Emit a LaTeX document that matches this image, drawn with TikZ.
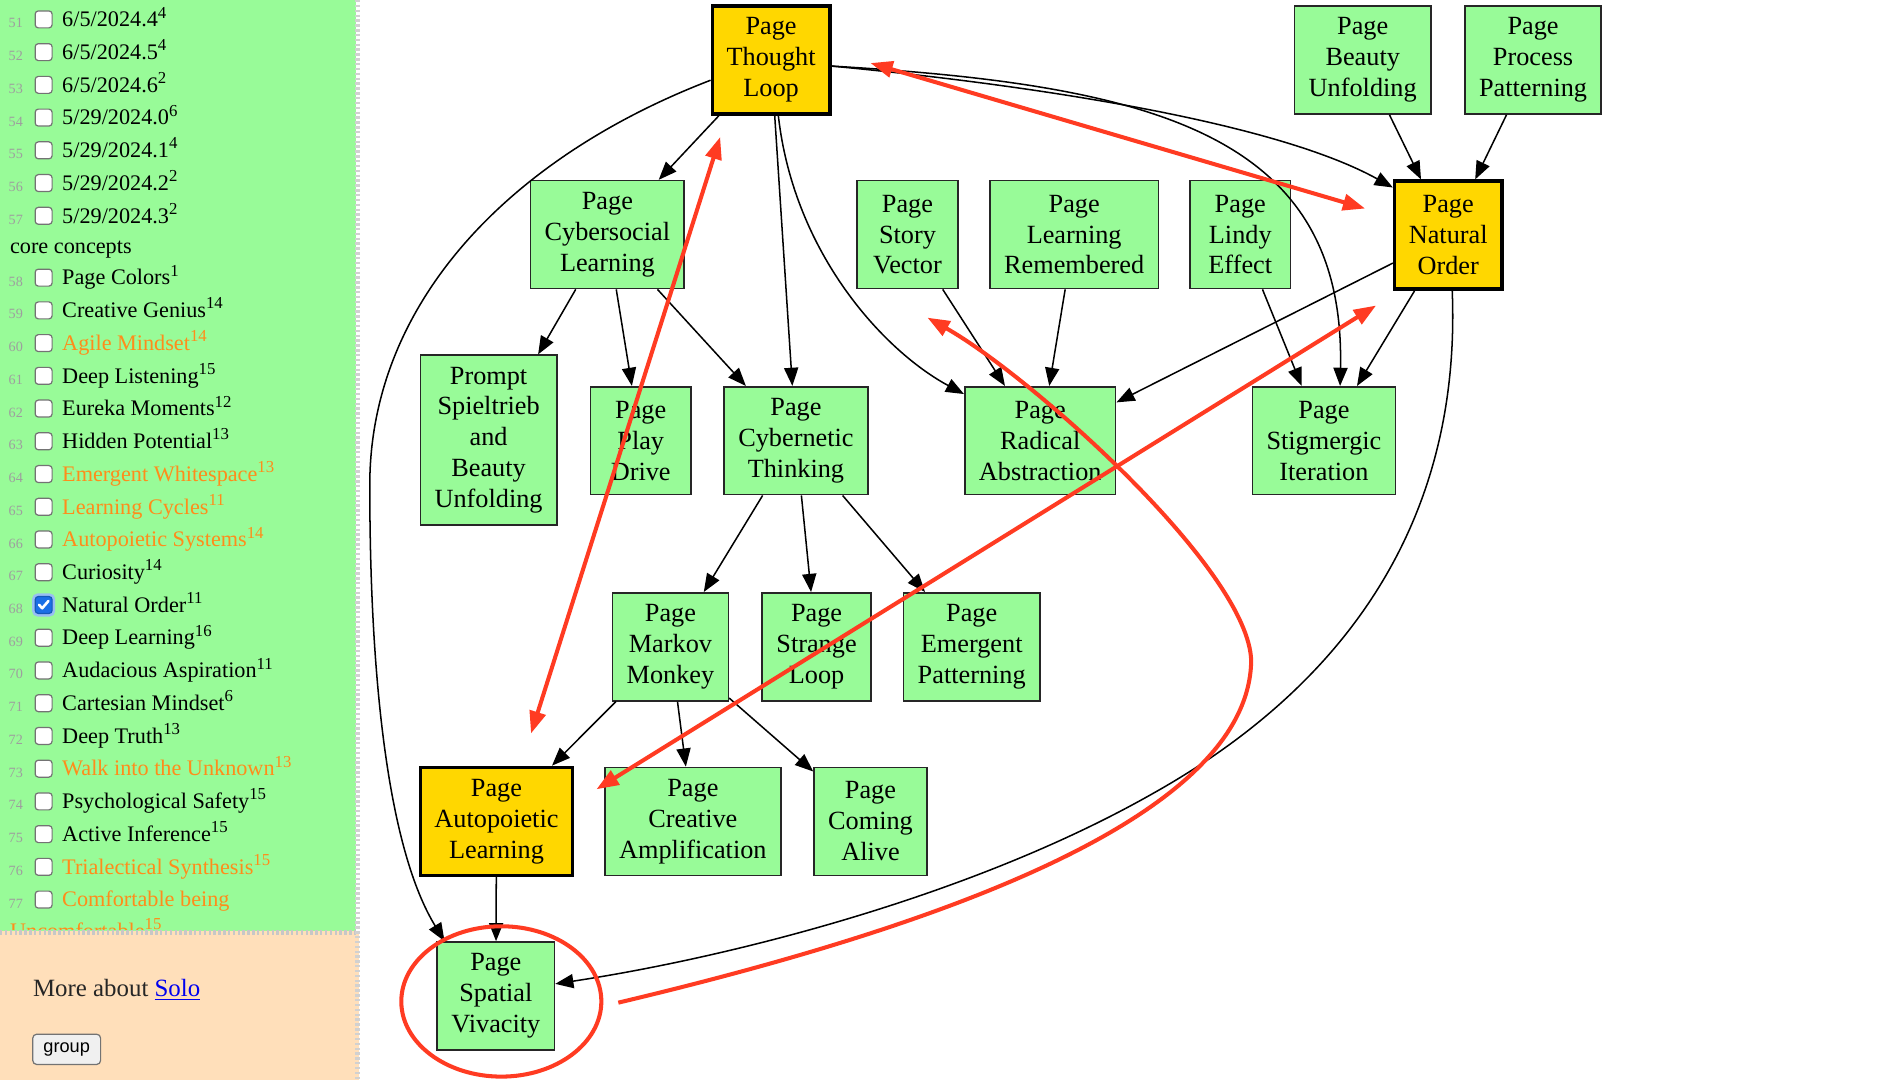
\documentclass[tikz,border=0pt]{standalone}
\usepackage{fontspec}
\setmainfont{Liberation Serif}
\newfontfamily\uifont{Liberation Sans}
\usetikzlibrary{arrows.meta,calc}

\definecolor{pagegreen}{HTML}{98FB98}
\definecolor{pagegold}{HTML}{FFD700}
\definecolor{notered}{HTML}{FF3B22}
\definecolor{sideorange}{HTML}{FF8C1A}
\definecolor{peach}{HTML}{FFDFBA}
\definecolor{linkblue}{HTML}{0000EE}
\definecolor{boxblue}{HTML}{1A6FE6}

\newcommand{\supnum}[1]{\raisebox{0.85ex}{\fontsize{8.3pt}{9pt}\selectfont #1}}

\begin{document}
\begin{tikzpicture}[
  x=0.6pt, y=-0.6pt,
  pagebox/.style={rectangle, draw=black!85, line width=0.8pt, fill=pagegreen, align=center,
    font=\fontsize{13pt}{15.3pt}\selectfont, inner xsep=7pt, inner ysep=2pt,
    minimum width=49.8pt, minimum height=53.4pt},
  hotbox/.style={pagebox, fill=pagegold, draw=black, line width=1.8pt},
  link/.style={>={Triangle[length=9pt,width=7pt]}, ->, line width=0.75pt},
  redmark/.style={draw=notered, line width=2pt, >={Triangle[length=11pt,width=8pt]}},
  entry/.style={anchor=base west, inner sep=0pt, font=\fontsize{11pt}{13pt}\selectfont},
  lineno/.style={anchor=base, inner sep=0pt, text=black!38, font=\fontsize{7pt}{8pt}\selectfont},
  chkbox/.style={rectangle, rounded corners=1.6pt, draw=black!55, line width=0.6pt, fill=white,
    minimum size=8.4pt, inner sep=0pt},
  chkdone/.style={chkbox, fill=boxblue, draw=boxblue!80!black},
  chkhalo/.style={rectangle, rounded corners=2.6pt, fill=boxblue!45, minimum size=11.4pt, inner sep=0pt},
  btn/.style={rectangle, rounded corners=2pt, draw=black!55, line width=0.6pt, fill=black!6,
    minimum width=33.6pt, minimum height=15pt, inner sep=0pt, font=\uifont\fontsize{9pt}{10pt}\selectfont}
]
  \useasboundingbox (0,0) rectangle (1568,891);
  \fill[white] (0,0) rectangle (1568,891);

  % sidebar
  \fill[pagegreen] (0,0) rectangle (294,768);
  \fill[peach] (0,768) rectangle (296,891);
  \begin{scope}
    \clip (0,0) rectangle (294,767);
    \foreach \n/\txt/\sup/\col in {51/{6/5/2024.4}/4/black, 52/{6/5/2024.5}/4/black,
        53/{6/5/2024.6}/2/black, 54/{5/29/2024.0}/6/black, 55/{5/29/2024.1}/4/black,
        56/{5/29/2024.2}/2/black, 57/{5/29/2024.3}/2/black, 58/Page Colors/1/black,
        59/Creative Genius/14/black, 60/Agile Mindset/14/sideorange, 61/Deep Listening/15/black,
        62/Eureka Moments/12/black, 63/Hidden Potential/13/black,
        64/Emergent Whitespace/13/sideorange, 65/Learning Cycles/11/sideorange,
        66/Autopoietic Systems/14/sideorange, 67/Curiosity/14/black, 68/Natural Order/11/black,
        69/Deep Learning/16/black, 70/Audacious Aspiration/11/black, 71/Cartesian Mindset/6/black,
        72/Deep Truth/13/black, 73/Walk into the Unknown/13/sideorange,
        74/Psychological Safety/15/black, 75/Active Inference/15/black,
        76/Trialectical Synthesis/15/sideorange, 77/Comfortable being//sideorange}{
      \pgfmathtruncatemacro\yy{\n<58 ? 27*\n-1361 : 27*\n-1337}
      \node[lineno] (n\n) at (13,\yy+7) {\n};
      \ifnum\n=68
        \node[chkhalo] at (36,\yy) {};
        \node[chkdone] (c\n) at (36,\yy) {};
        \draw[white, line width=1.3pt, line cap=round, line join=round]
          ([shift={(-2.3pt,0.1pt)}]c\n.center) -- ([shift={(-0.7pt,-1.6pt)}]c\n.center)
          -- ([shift={(2.4pt,2pt)}]c\n.center);
      \else
        \node[chkbox] (c\n) at (36,\yy) {};
      \fi
      \node[entry, text=\col] (t\n) at (51,\yy+6) {\txt\supnum{\sup}};
    }
    \node[entry] (core) at (8,209) {core concepts};
    \node[entry, text=sideorange] (t77b) at (8,774) {Uncomfortable\supnum{15}};
  \end{scope}
  \draw[black!22, line width=2.4pt, dash pattern=on 1.2pt off 1.2pt] (0,769) -- (294,769);
  \draw[black!18, line width=2.4pt, dash pattern=on 1.2pt off 1.2pt] (295,0) -- (295,891);
  \node[entry, text=black!85, font=\fontsize{12.3pt}{14pt}\selectfont] (more) at (27,822)
    {More about \textcolor{linkblue}{\underline{Solo}}};
  \node[btn] (grp) at (55,865.5) {group};

  % pages
  \node[hotbox]  (tl)  at (636,49.5)    {Page\\Thought\\Loop};
  \node[pagebox] (bu)  at (1124,49.5)   {Page\\Beauty\\Unfolding};
  \node[pagebox] (pp)  at (1264.5,49.5) {Page\\Process\\Patterning};
  \node[pagebox] (cs)  at (501,193.5)   {Page\\Cybersocial\\Learning};
  \node[pagebox] (stv) at (748.5,193.5) {Page\\Story\\Vector};
  \node[pagebox] (lr)  at (886,193.5)   {Page\\Learning\\Remembered};
  \node[pagebox] (le)  at (1023,193.5)  {Page\\Lindy\\Effect};
  \node[hotbox]  (no)  at (1194.5,194)  {Page\\Natural\\Order};
  \node[pagebox, minimum height=84pt] (ps) at (403,363) {Prompt\\Spieltrieb\\and\\Beauty\\Unfolding};
  \node[pagebox] (pd)  at (528.5,363.5) {Page\\Play\\Drive};
  \node[pagebox] (ct)  at (656.5,363.5) {Page\\Cybernetic\\Thinking};
  \node[pagebox] (ra)  at (858,363.5)   {Page\\Radical\\Abstraction};
  \node[pagebox] (si)  at (1092,363.5)  {Page\\Stigmergic\\Iteration};
  \node[pagebox] (mm)  at (553,533.5)   {Page\\Markov\\Monkey};
  \node[pagebox] (sl)  at (673.5,533.5) {Page\\Strange\\Loop};
  \node[pagebox] (ep)  at (801.5,533.5) {Page\\Emergent\\Patterning};
  \node[hotbox]  (al)  at (409.5,677.5) {Page\\Autopoietic\\Learning};
  \node[pagebox] (ca)  at (571.5,677.5) {Page\\Creative\\Amplification};
  \node[pagebox] (cal) at (718,677.5)   {Page\\Coming\\Alive};
  \node[pagebox] (sv)  at (409,821.5)   {Page\\Spatial\\Vivacity};

  % links
  \draw[link] (tl) -- (cs);
  \draw[link] (tl) -- (ct);
  \draw[link] ([xshift=3.6pt]tl.south) .. controls (655,210) and (730,290) .. ([yshift=-4pt]ra.north west);
  \draw[link] ([yshift=-3pt]tl.east) .. controls (850,70) and (1050,100) .. ([yshift=-4pt]no.north west);
  \draw[link] ([yshift=-3pt]tl.east) .. controls (950,70) and (1110,110) .. ([xshift=8pt]si.north);
  \draw[link] ([yshift=-10pt]tl.west) .. controls (420,130) and (305,250) .. (305,400)
    .. controls (305,560) and (320,700) .. ([xshift=4pt]sv.north west);
  \draw[link] (cs) -- (ps);
  \draw[link] (cs) -- (pd);
  \draw[link] (cs) -- (ct);
  \draw[link] (stv) -- (ra);
  \draw[link] (lr) -- (ra);
  \draw[link] (le) -- (si);
  \draw[link] (no) -- (ra);
  \draw[link] (no) -- (si);
  \draw[link] ([xshift=2pt]no.south) .. controls (1205,420) and (1120,560) .. (950,655)
    .. controls (800,740) and (600,790) .. ([yshift=6pt]sv.east);
  \draw[link] (bu) -- (no);
  \draw[link] (pp) -- (no);
  \draw[link] (ct) -- (mm);
  \draw[link] (ct) -- (sl);
  \draw[link] (ct) -- (ep);
  \draw[link] (mm) -- (al);
  \draw[link] (mm) -- (ca);
  \draw[link] (mm) -- (cal);
  \draw[link] (al) -- (sv);

  % red marks
  \coordinate (a1) at (718,52);   \coordinate (a2) at (1126,172);
  \coordinate (b1) at (594,113);  \coordinate (b2) at (438,605);
  \coordinate (d1) at (1135,252); \coordinate (d2) at (492,651);
  \coordinate (c1) at (510,827);  \coordinate (c2) at (765,262);
  \draw[redmark, <->] (a1) -- (a2);
  \draw[redmark, <->] (b1) -- (b2);
  \draw[redmark, <->] (d1) -- (d2);
  \draw[redmark, ->] (c1) .. controls (750,770) and (1030,680) .. (1032,545)
    .. controls (1030,470) and (850,310) .. (c2);
  \draw[redmark] ($(sv.center)+(4.5,4.5)$) ellipse [x radius=49.5pt, y radius=37.2pt];
\end{tikzpicture}
\end{document}
